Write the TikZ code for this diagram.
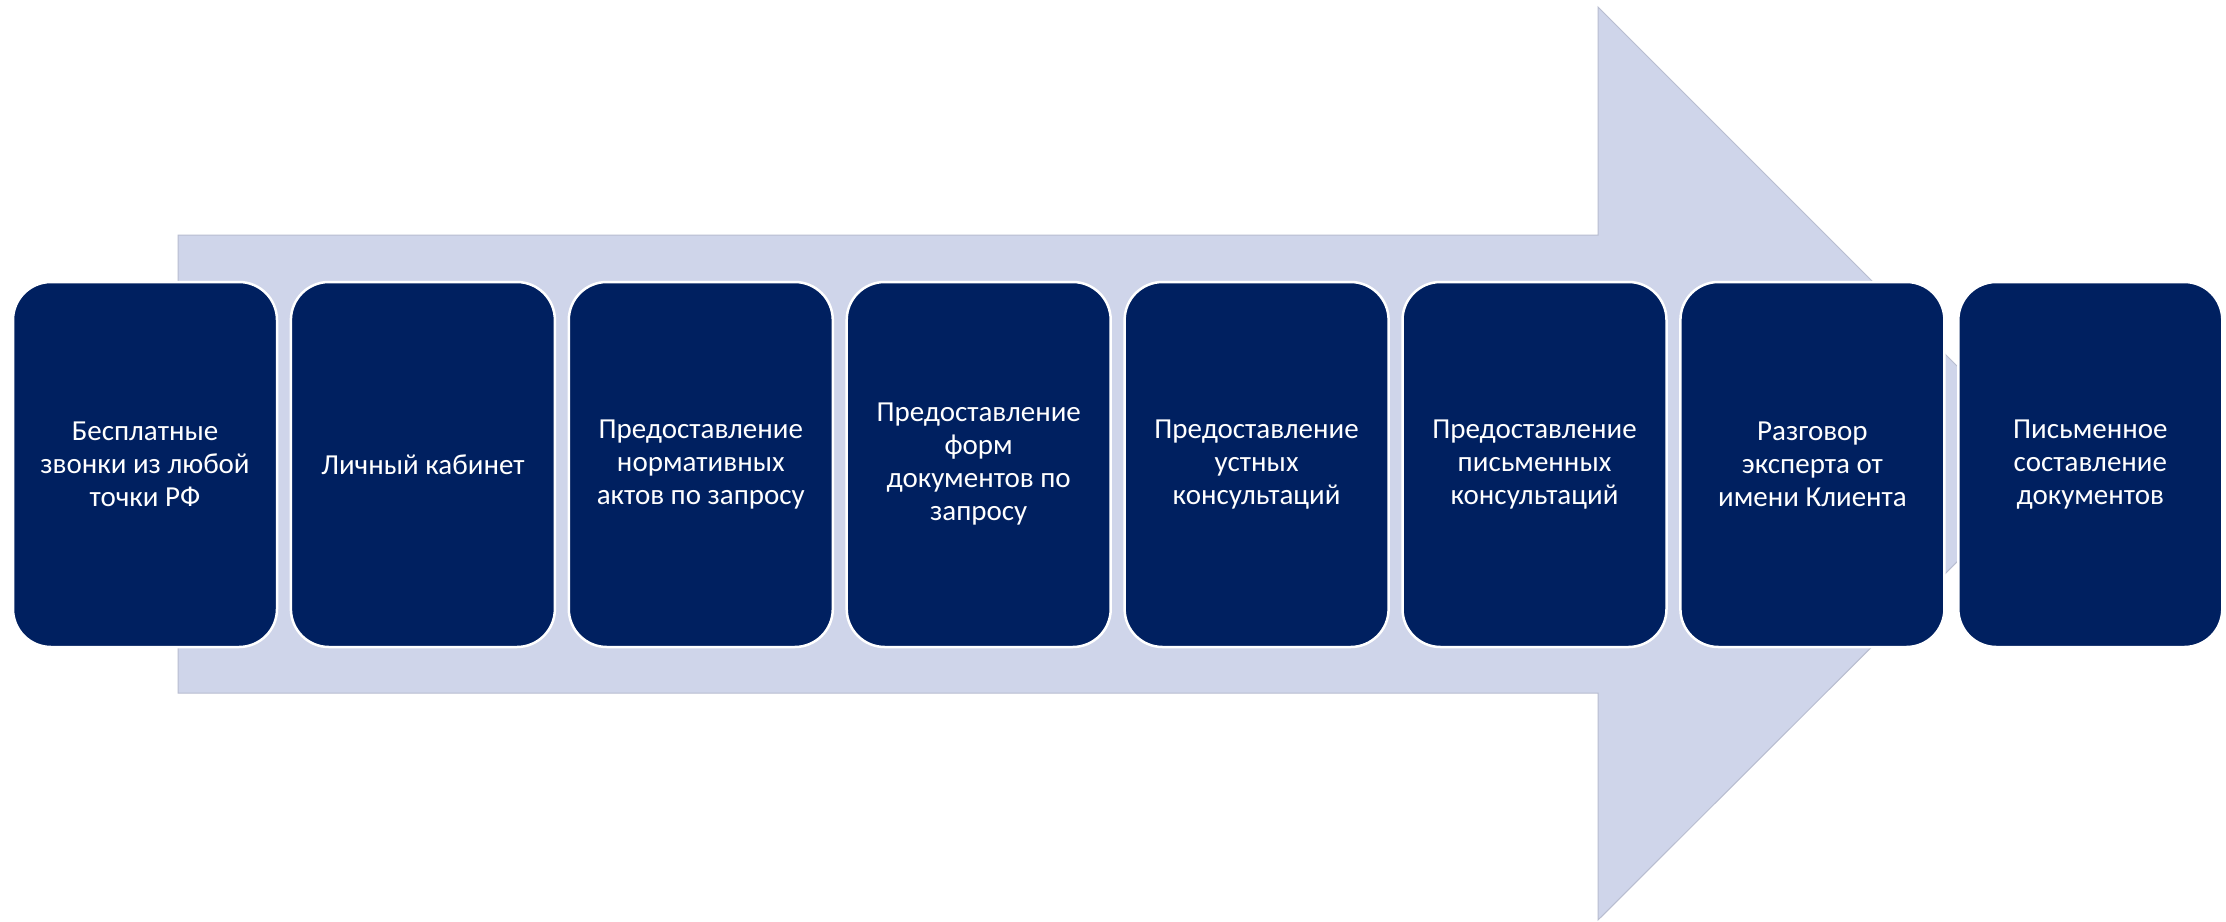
\documentclass[tikz,border=0pt]{standalone}
\usepackage{fontspec}
\setmainfont{Carlito}
\definecolor{arrowfill}{HTML}{CFD5EA}
\definecolor{arrowedge}{HTML}{B8BDD0}
\definecolor{navy}{HTML}{002060}
\tikzset{
  stepbox/.style={rectangle, rounded corners=38pt, minimum width=264pt, minimum height=365pt,
    fill=navy, draw=white, line width=2.5pt, text=white, align=center, inner sep=0pt,
    font=\fontsize{29}{33}\selectfont},
  bigarrow/.style={fill=arrowfill, draw=arrowedge, line width=1pt, line join=miter}
}
\begin{document}
\begin{tikzpicture}[x=1pt,y=-1pt]
\useasboundingbox (0,0) rectangle (2226,921);
\fill[white] (0,0) rectangle (2226,921);
\draw[bigarrow] (178,235) -- (1598,235) -- (1598,7) -- (2055,464) -- (1598,920) -- (1598,693) -- (178,693) -- cycle;
\node[stepbox] (b1) at (145,464.5) {Бесплатные\\звонки из любой\\точки РФ};
\node[stepbox] (b2) at (422.9,464.5) {Личный кабинет};
\node[stepbox] (b3) at (700.8,464.5) {Предоставление\\нормативных\\актов по запросу};
\node[stepbox] (b4) at (978.7,464.5) {Предоставление\\форм\\документов по\\запросу};
\node[stepbox] (b5) at (1256.6,464.5) {Предоставление\\устных\\консультаций};
\node[stepbox] (b6) at (1534.5,464.5) {Предоставление\\письменных\\консультаций};
\node[stepbox] (b7) at (1812.4,464.5) {Разговор\\эксперта от\\имени Клиента};
\node[stepbox] (b8) at (2090.3,464.5) {Письменное\\составление\\документов};
\end{tikzpicture}
\end{document}
